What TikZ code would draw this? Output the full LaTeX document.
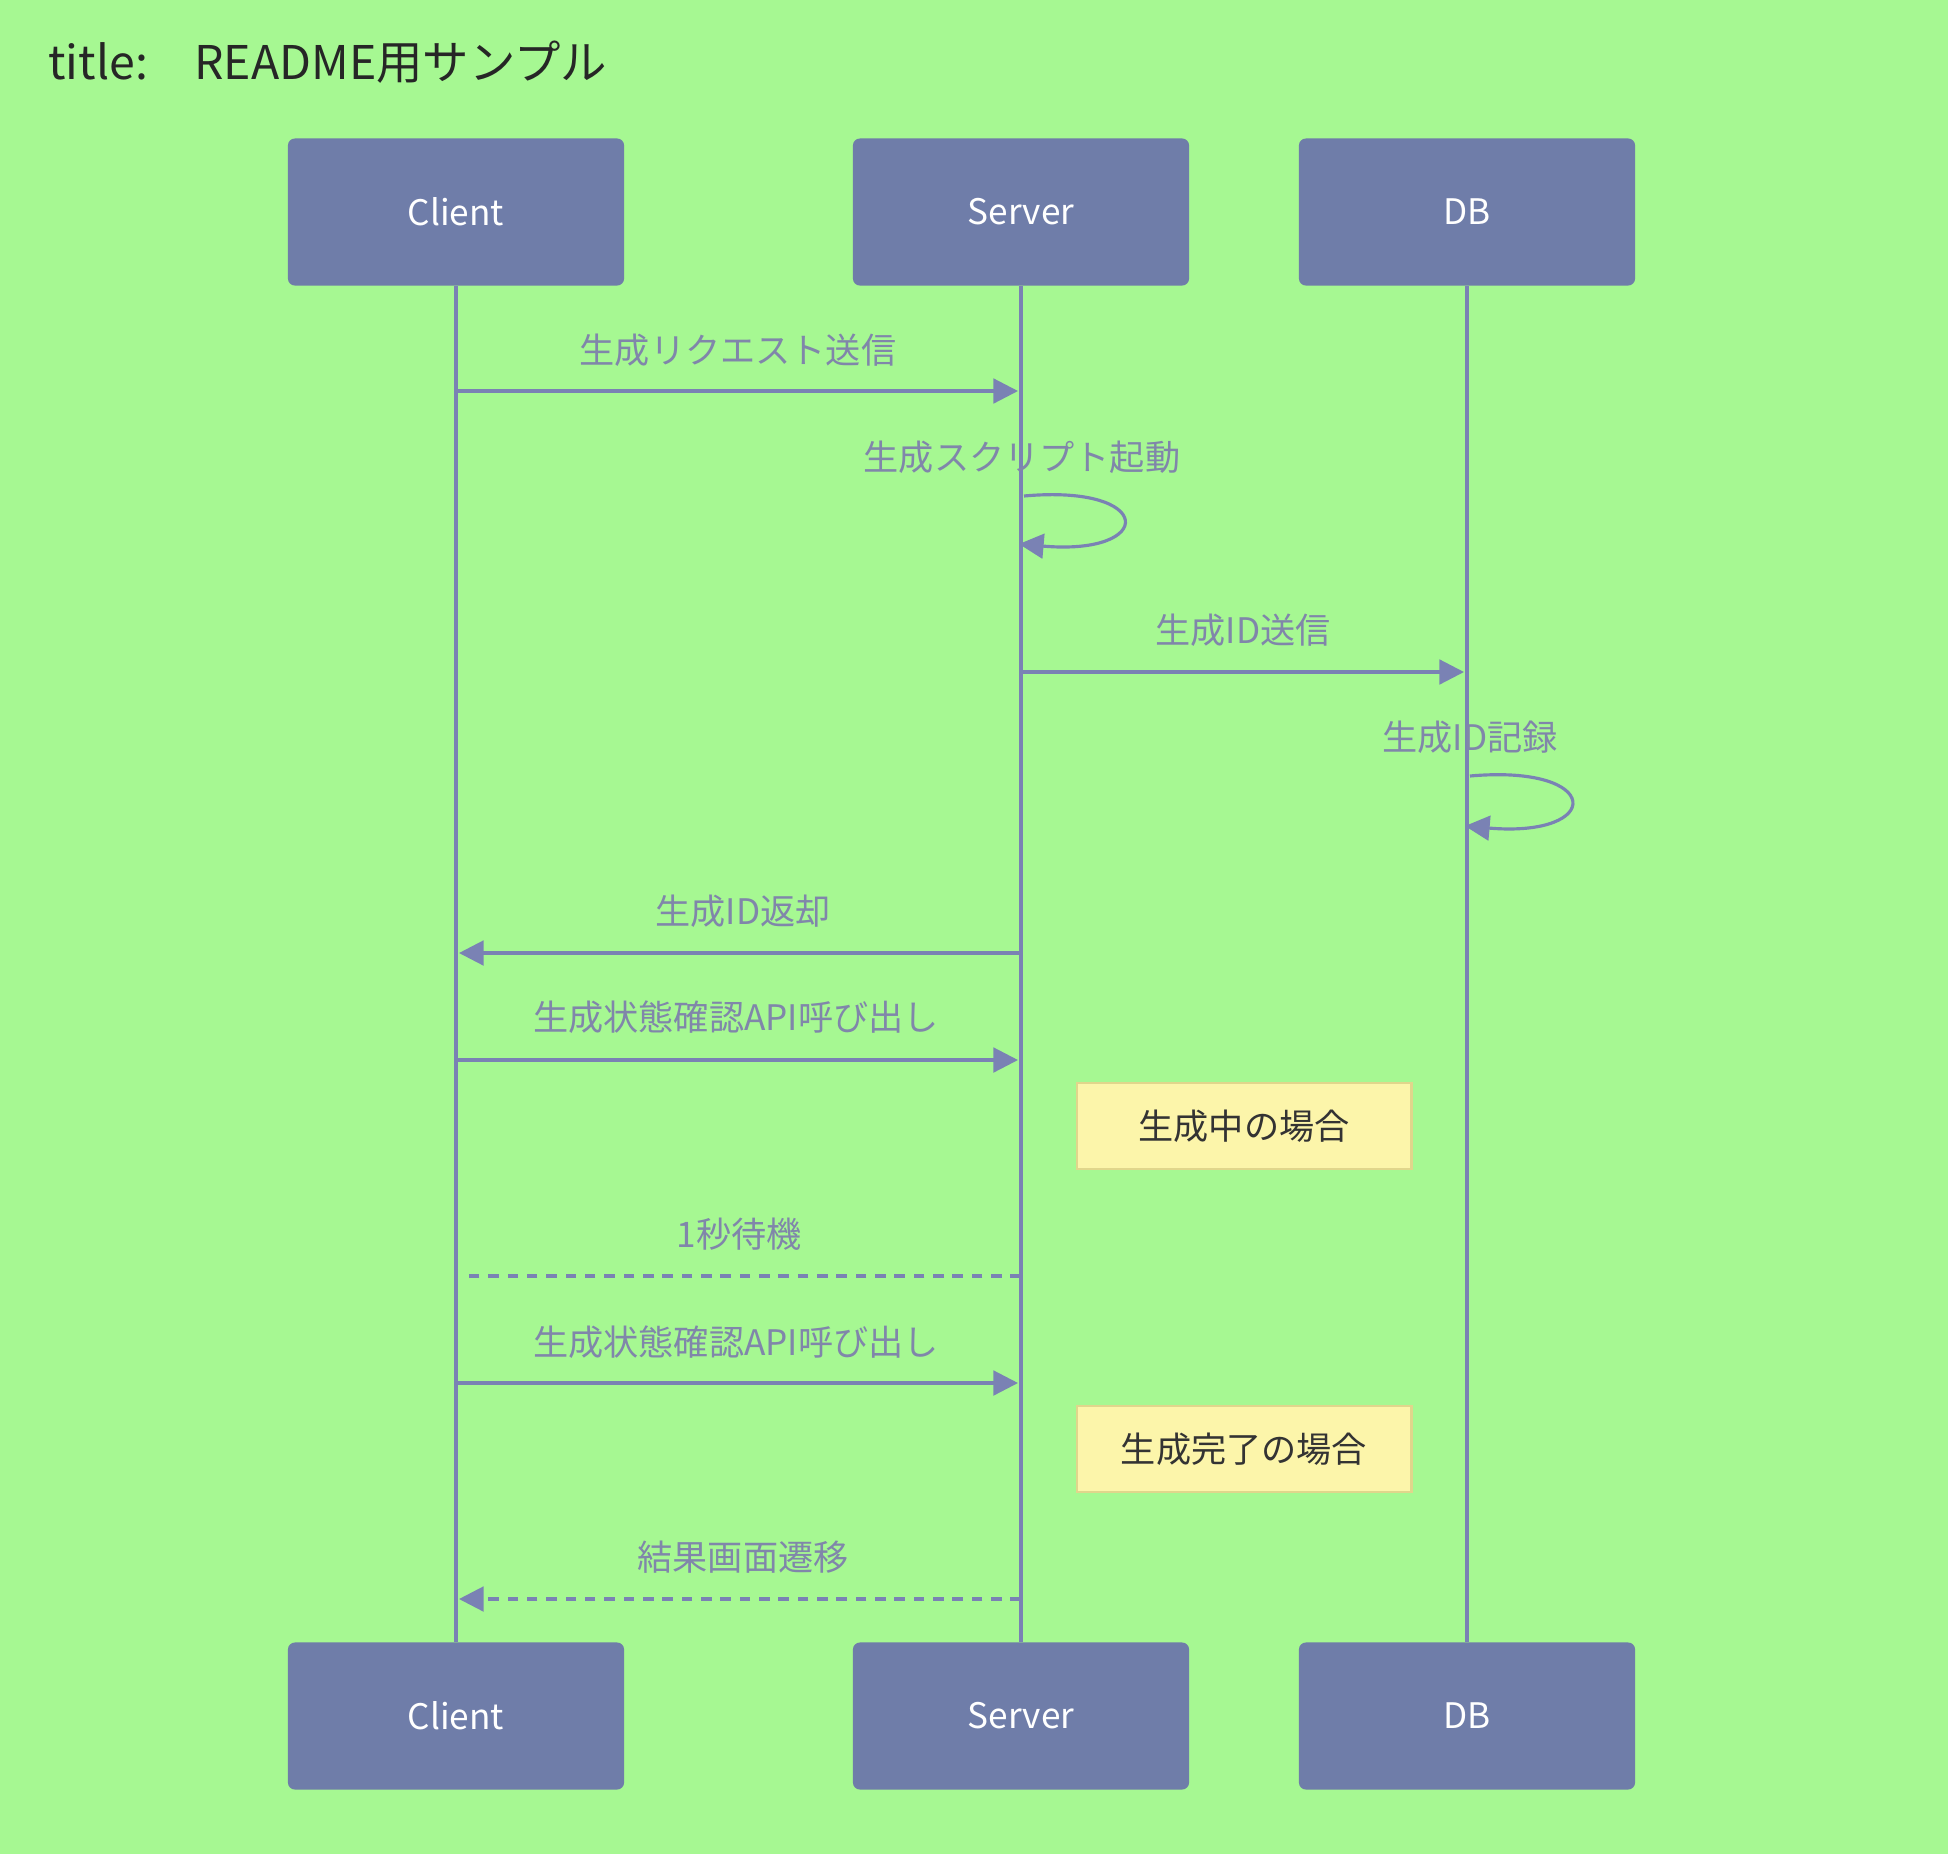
\documentclass[tikz,border=0pt]{standalone}
\usepackage{fontspec}
\setmainfont{Noto Sans CJK JP}
\usepackage{tikz}
\usetikzlibrary{arrows.meta, positioning, calc}
\definecolor{bggreen}{RGB}{166, 248, 146}
\definecolor{actorblue}{RGB}{111, 125, 169}
\definecolor{lifeblue}{RGB}{122, 130, 180}
\definecolor{msgtext}{RGB}{128, 134, 170}
\definecolor{notefill}{RGB}{252, 245, 170}
\definecolor{noteedge}{RGB}{224, 214, 140}

\begin{document}
\begin{tikzpicture}[x=0.01cm, y=-0.01cm,
  actor/.style={rectangle, rounded corners=2pt, fill=actorblue, text=white, minimum width=3.36cm, minimum height=1.47cm, font=\fontsize{10}{12}\selectfont},
  msg/.style={draw=lifeblue, line width=0.9pt, -{Triangle[length=7pt, width=7pt]}},
  reply/.style={msg, dash pattern=on 3pt off 2.5pt},
  msglabel/.style={text=msgtext, font=\fontsize{10}{12}\selectfont},
  notebox/.style={rectangle, fill=notefill, draw=noteedge, line width=0.8pt, minimum width=3.34cm, minimum height=0.86cm, text=black!80, font=\fontsize{10}{12}\selectfont}]
  \fill[bggreen] (0,0) rectangle (1948,1854);
  \useasboundingbox (0,0) rectangle (1948,1854);
  \node[anchor=west, text=black!85, font=\fontsize{13.2}{16}\selectfont] (title) at (36,62) {title:　README用サンプル};
  % participants
  \foreach \name/\x/\lbl in {client/456/Client, server/1021/Server, db/1467/DB} {
    \node[actor] (\name top) at (\x, 212) {\lbl};
    \node[actor] (\name bot) at (\x, 1716) {\lbl};
    \draw[lifeblue, line width=1.3pt] (\name top.south) -- (\name bot.north);
  }
  % message ends
  \coordinate (c1) at (456,391);  \coordinate (s1) at (1018,391);
  \coordinate (s2a) at (1024,496); \coordinate (s2b) at (1019,544);
  \coordinate (s3) at (1021,672); \coordinate (d3) at (1464,672);
  \coordinate (d4a) at (1470,776); \coordinate (d4b) at (1465,826);
  \coordinate (s5) at (1021,953); \coordinate (c5) at (459,953);
  \coordinate (c6) at (456,1060); \coordinate (s6) at (1018,1060);
  \coordinate (s7) at (1021,1276); \coordinate (c7) at (463,1276);
  \coordinate (c8) at (456,1383); \coordinate (s8) at (1018,1383);
  \coordinate (s9) at (1021,1599); \coordinate (c9) at (459,1599);
  % messages
  \node[msglabel] (l1) at (738,350) {生成リクエスト送信};
  \draw[msg] (c1) -- (s1);
  \node[msglabel] (l2) at (1022,457) {生成スクリプト起動};
  \draw[msg] (s2a) .. controls (1156,484) and (1156,556) .. (s2b);
  \node[msglabel] (l3) at (1243,630) {生成ID送信};
  \draw[msg] (s3) -- (d3);
  \node[msglabel] (l4) at (1470,737) {生成ID記録};
  \draw[msg] (d4a) .. controls (1604,764) and (1604,838) .. (d4b);
  \node[msglabel] (l5) at (743,911) {生成ID返却};
  \draw[msg] (s5) -- (c5);
  \node[msglabel] (l6) at (736,1017) {生成状態確認API呼び出し};
  \draw[msg] (c6) -- (s6);
  \node[notebox] (n1) at (1244,1126) {生成中の場合};
  \node[msglabel] (l7) at (739,1234) {1秒待機};
  \draw[draw=lifeblue, line width=0.9pt, dash pattern=on 3pt off 2.5pt] (s7) -- (c7);
  \node[msglabel] (l8) at (736,1342) {生成状態確認API呼び出し};
  \draw[msg] (c8) -- (s8);
  \node[notebox] (n2) at (1244,1449) {生成完了の場合};
  \node[msglabel] (l9) at (743,1557) {結果画面遷移};
  \draw[reply] (s9) -- (c9);
\end{tikzpicture}
\end{document}
